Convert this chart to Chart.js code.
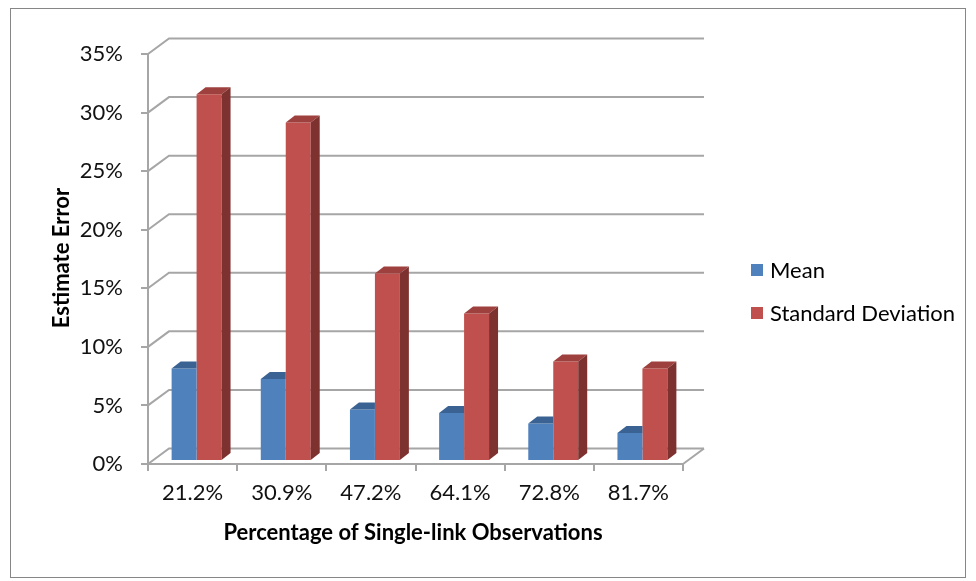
<!DOCTYPE html>
<html>
<head>
<meta charset="utf-8">
<script src="https://cdn.jsdelivr.net/npm/chart.js@4/dist/chart.umd.min.js"></script>
<style>
  html, body { margin: 0; background: #fff; }
  #wrap { width: 976px; height: 581px; }
</style>
</head>
<body>
<div id="wrap"><canvas id="myBarChart"></canvas></div>
<script>
// datos
var categories = ['21.2%', '30.9%', '47.2%', '64.1%', '72.8%', '81.7%'];
var meanValues = [7.9, 7.0, 4.4, 4.1, 3.2, 2.4];
var sdValues = [31.3, 28.9, 16.0, 12.6, 8.5, 7.9];
var yTicks = [0, 5, 10, 15, 20, 25, 30, 35];

var gridColor = '#a6a6a6';
var wallDx = 21, wallDy = -15.5;   // profundidad de la pared del fondo
var barDx = 4, barDy = -3;         // barras a media profundidad
var depthDx = 9, depthDy = -7;     // grosor 3D de cada barra

var faceColors = [
  { top: '#3a6292', side: '#34577f' },
  { top: '#9e403d', side: '#7d3230' }
];

// pared del fondo, suelo y caras 3D
var wall3d = {
  id: 'wall3d',
  beforeDatasetsDraw: function (chart) {
    var ctx = chart.ctx, a = chart.chartArea, y = chart.scales.y;
    ctx.save();
    ctx.strokeStyle = gridColor;
    ctx.lineWidth = 2;
    yTicks.forEach(function (v) {
      var py = y.getPixelForValue(v);
      ctx.beginPath();
      ctx.moveTo(a.left, py);
      ctx.lineTo(a.left + wallDx, py + wallDy);
      ctx.lineTo(a.right + wallDx, py + wallDy);
      ctx.stroke();
    });
    ctx.beginPath();
    ctx.moveTo(a.right, a.bottom);
    ctx.lineTo(a.right + wallDx, a.bottom + wallDy);
    ctx.stroke();
    ctx.restore();
    // las barras van un poco hacia el fondo
    ctx.save();
    ctx.translate(barDx, barDy);
  },
  afterDatasetsDraw: function (chart) {
    var ctx = chart.ctx;
    // la serie Mean queda detras de la serie roja: sin cara lateral
    [0, 1].forEach(function (di) {
      var fc = faceColors[di];
      chart.getDatasetMeta(di).data.forEach(function (bar) {
        var l = bar.x - bar.width / 2, r = bar.x + bar.width / 2;
        var t = bar.y, b = bar.base;
        ctx.fillStyle = fc.top;
        ctx.beginPath();
        ctx.moveTo(l, t);
        ctx.lineTo(l + depthDx, t + depthDy);
        ctx.lineTo(di === 0 ? r : r + depthDx, t + depthDy);
        ctx.lineTo(r, t);
        ctx.closePath();
        ctx.fill();
        if (di === 1) {
          ctx.fillStyle = fc.side;
          ctx.beginPath();
          ctx.moveTo(r, t);
          ctx.lineTo(r + depthDx, t + depthDy);
          ctx.lineTo(r + depthDx, b + depthDy);
          ctx.lineTo(r, b);
          ctx.closePath();
          ctx.fill();
        }
      });
    });
    ctx.restore();
  }
};

// titulos, leyenda y marco
var labels = {
  id: 'labels',
  afterDraw: function (chart) {
    var ctx = chart.ctx;
    ctx.save();
    ctx.strokeStyle = '#868686';
    ctx.lineWidth = 1;
    ctx.strokeRect(10.5, 8.5, 955, 569);

    ctx.fillStyle = '#000';
    ctx.font = 'bold 22px Lato';
    ctx.textAlign = 'center';
    ctx.textBaseline = 'middle';
    ctx.fillText('Percentage of Single-link Observations', 413, 533);
    ctx.save();
    ctx.translate(62, 258);
    ctx.rotate(-Math.PI / 2);
    ctx.fillText('Estimate Error', 0, 0);
    ctx.restore();

    ctx.font = '22px Lato';
    ctx.textAlign = 'left';
    chart.data.datasets.forEach(function (ds, i) {
      var cy = 270 + i * 43;
      ctx.fillStyle = ds.backgroundColor;
      ctx.fillRect(751, cy - 6, 12, 12);
      ctx.fillStyle = '#000';
      ctx.fillText(ds.label, 770, cy + 1);
    });
    ctx.restore();
  }
};

var ctx = document.getElementById('myBarChart').getContext('2d');
var myBarChart = new Chart(ctx, {
  type: 'bar',
  data: {
    labels: categories,
    datasets: [{
      label: 'Mean',
      data: meanValues,
      backgroundColor: '#4f81bd'
    }, {
      label: 'Standard Deviation',
      data: sdValues,
      backgroundColor: '#c0504d'
    }]
  },
  options: {
    responsive: true,
    maintainAspectRatio: false,
    animation: false,
    categoryPercentage: 0.56,
    barPercentage: 1,
    layout: { padding: { left: 0, top: 54, right: 293, bottom: 0 } },
    scales: {
      x: {
        grid: { drawOnChartArea: false, offset: true, tickLength: 7, color: gridColor, lineWidth: 2 },
        border: { color: gridColor, width: 2 },
        ticks: { color: '#111', padding: 9, font: { family: 'Lato', size: 22 } },
        afterFit: function (s) { s.height = 117; }
      },
      y: {
        min: 0,
        max: 35,
        afterBuildTicks: function (s) { s.ticks = yTicks.map(function (v) { return { value: v }; }); },
        grid: { drawOnChartArea: false, tickLength: 7, color: gridColor, lineWidth: 2 },
        border: { color: gridColor, width: 2 },
        ticks: {
          color: '#111', padding: 18, font: { family: 'Lato', size: 22 },
          callback: function (v) { return v + '%'; }
        },
        afterFit: function (s) { s.width = 148; }
      }
    },
    plugins: {
      legend: { display: false },
      tooltip: { enabled: false }
    }
  },
  plugins: [wall3d, labels]
});
</script>
</body>
</html>
